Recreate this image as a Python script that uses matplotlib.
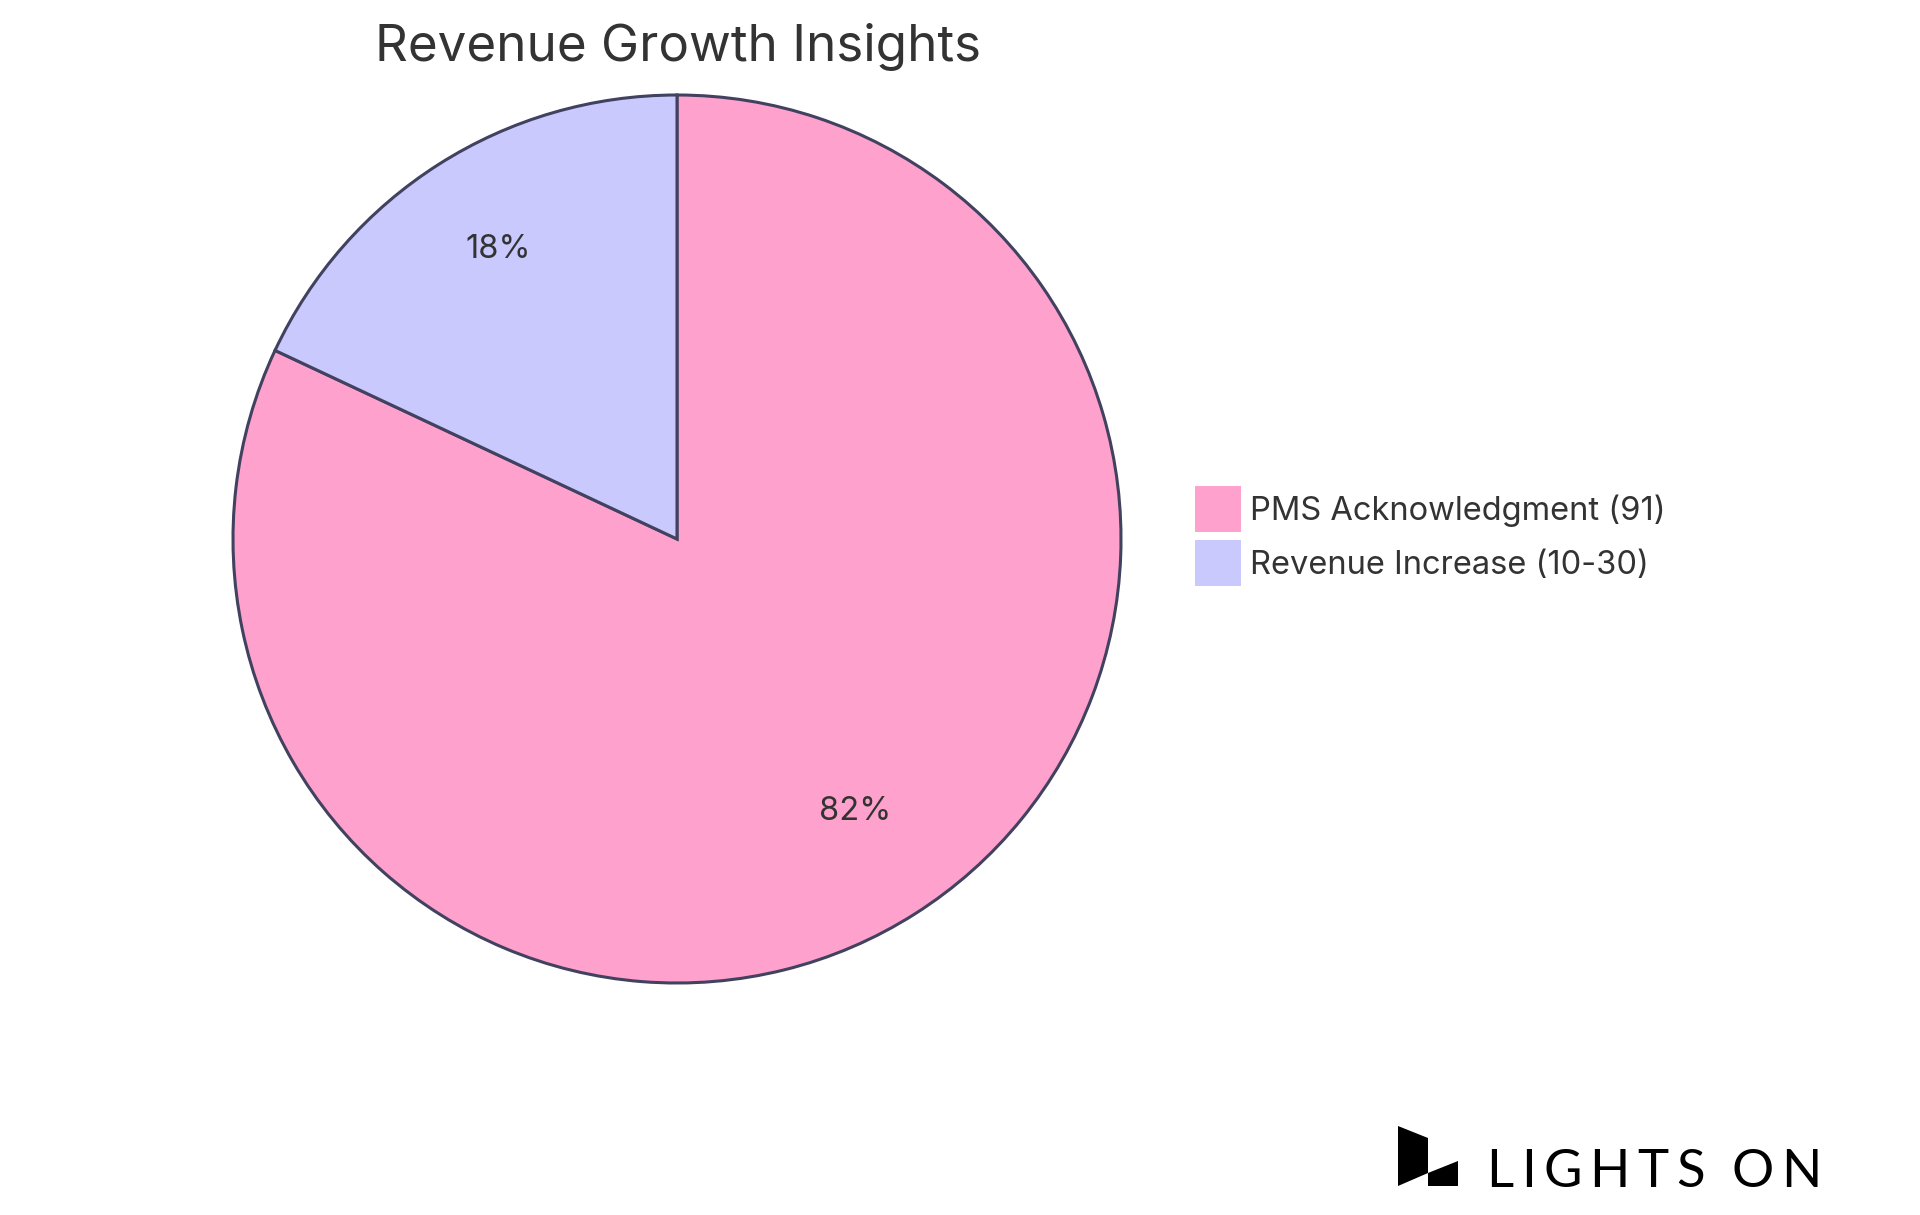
import matplotlib
matplotlib.use("Agg")
import matplotlib.pyplot as plt
from matplotlib.patches import Rectangle, Polygon

# ---- data ----
labels = ["PMS Acknowledgment (91)", "Revenue Increase (10-30)"]
values = [91, 20]
colors = ["#FFA1CD", "#C9C9FE"]
title = "Revenue Growth Insights"
brand = "LIGHTS ON"

W, H = 1920, 1215
DPI = 100
plt.rcParams['font.family'] = ['Inter', 'DejaVu Sans']
TXT = "#333333"
EDGE = "#414160"

fig = plt.figure(figsize=(W / DPI, H / DPI), dpi=DPI)
fig.patch.set_facecolor("white")

def fx(px):
    return px / W

def fy(py):
    return 1 - py / H

# pie axes: center (677, 539), radius 444 px
cx, cy, r = 677, 539, 444
ax = fig.add_axes([fx(cx - r), fy(cy + r), 2 * r / W, 2 * r / H])
wedges, texts, autotexts = ax.pie(
    values, colors=colors, startangle=90, counterclock=False,
    autopct=lambda p: f"{p:.0f}%", pctdistance=0.75,
    wedgeprops=dict(edgecolor=EDGE, linewidth=2.2),
    textprops=dict(color=TXT, fontsize=23.5))
for w in wedges:
    w.set_clip_on(False)
for t in autotexts:
    t.set_va("baseline")
ax.set_xlim(-1, 1)
ax.set_ylim(-1, 1)
ax.set_aspect("auto")
ax.axis("off")

# title
fig.text(fx(678), fy(61), title, ha="center", va="baseline",
         fontsize=36.8, color=TXT)

# legend
sq = 46
for i, (lab, col) in enumerate(zip(labels, colors)):
    top = 486 + i * 54
    fig.patches.append(Rectangle((fx(1195), fy(top + sq)), sq / W, sq / H,
                                 transform=fig.transFigure, facecolor=col,
                                 edgecolor="none"))
    fig.text(fx(1250), fy(top + 34), lab, ha="left", va="baseline",
             fontsize=23.5, color=TXT)

# logo icon
left_poly = [(1398, 1126), (1428, 1138), (1428, 1173), (1398, 1186)]
right_poly = [(1428, 1173), (1458, 1161), (1458, 1186), (1428, 1186)]
for poly in (left_poly, right_poly):
    fig.patches.append(Polygon([(fx(x), fy(y)) for x, y in poly], closed=True,
                               transform=fig.transFigure, facecolor="black",
                               edgecolor="none"))

# logo text with uniform wide tracking between x=1486 and x=1822
renderer = fig.canvas.get_renderer()
logo_kw = dict(ha="left", va="baseline", fontsize=38, color="black",
               family=["Lato", "DejaVu Sans"])
chars = []
for ch in brand:
    t = fig.text(0, fy(1187), ch if ch != " " else "-", **logo_kw)
    wpx = t.get_window_extent(renderer).width
    if ch == " ":
        t.remove()
        wpx *= 0.6
        t = None
    chars.append((t, wpx))
x0, x1 = 1486, 1822
total = sum(w for _, w in chars)
track = (x1 - x0 - total) / (len(chars) - 1)
x = x0
for t, wpx in chars:
    if t is not None:
        t.set_x(fx(x))
    x += wpx + track

fig.savefig("out.png", dpi=DPI, facecolor="white")
